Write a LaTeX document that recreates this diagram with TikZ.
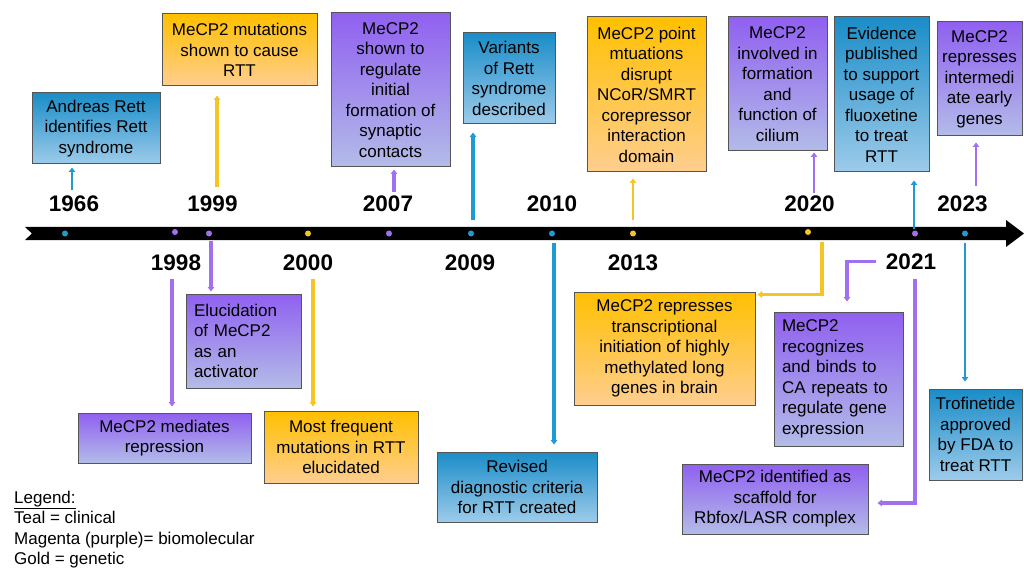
\documentclass[tikz,border=0pt]{standalone}
\usepackage{fontspec}
\setmainfont{Liberation Sans}
\usetikzlibrary{arrows.meta}
\definecolor{tealtop}{HTML}{1A8DC8}
\definecolor{tealbot}{HTML}{9DCBEA}
\definecolor{purptop}{HTML}{9060F0}
\definecolor{purpbot}{HTML}{B3BCE8}
\definecolor{goldtop}{HTML}{FFC000}
\definecolor{goldbot}{HTML}{FFCE8F}
\definecolor{boxline}{HTML}{555555}
\definecolor{tealline}{HTML}{1E9BD0}
\definecolor{purpline}{HTML}{A070F0}
\definecolor{goldline}{HTML}{F5C526}
\tikzset{
    box/.style={draw=boxline,line width=1pt,inner sep=3pt,align=center,
        font=\fontsize{17}{20.5}\selectfont},
    clinical/.style={box,top color=tealtop,bottom color=tealbot},
    biomol/.style={box,top color=purptop,bottom color=purpbot},
    genetic/.style={box,top color=goldtop,bottom color=goldbot},
    leftbox/.style={align=left,inner xsep=8pt},
    year/.style={font=\fontsize{22.5}{27}\selectfont\bfseries,anchor=base,inner sep=0pt},
    dot/.style={circle,inner sep=0pt,minimum size=6pt},
    link/.style={line width=3.2pt,-{Triangle[length=4.5pt,width=6.5pt]}},
    thinlink/.style={link,line width=2.4pt},
}
\begin{document}
\begin{tikzpicture}[x=1pt,y=-1pt]
    \useasboundingbox (0,0) rectangle (1024,569);
    \fill (25,227) -- (1006,227) -- (1006,220) -- (1024,233.5) -- (1006,247)
        -- (1006,240) -- (25,240) -- (32,233.5) -- cycle;

    \node[dot,fill=tealline] (d1966) at (65,233.5) {};
    \node[dot,fill=purpline] (d1998) at (175,232) {};
    \node[dot,fill=purpline] (d1999) at (209,233.5) {};
    \node[dot,fill=goldline] (d2000) at (308,233.5) {};
    \node[dot,fill=purpline] (d2007) at (389,233.5) {};
    \node[dot,fill=tealline] (d2009) at (471,233.5) {};
    \node[dot,fill=tealline] (d2010) at (552,233.5) {};
    \node[dot,fill=goldline] (d2013) at (633,233.5) {};
    \node[dot,fill=goldline] (d2020) at (808,232) {};
    \node[dot,fill=purpline] (d2021) at (915,233.5) {};
    \node[dot,fill=tealline] (d2023) at (965,233.5) {};

    \node[year] (y1966) at (74,212) {1966};
    \node[year] (y1999) at (212.5,212) {1999};
    \node[year] (y2007) at (388,212) {2007};
    \node[year] (y2010) at (552,212) {2010};
    \node[year] (y2020) at (809.5,212) {2020};
    \node[year] (y2023) at (962.5,212) {2023};
    \node[year] (y1998) at (176,270) {1998};
    \node[year] (y2000) at (308,270) {2000};
    \node[year] (y2009) at (470,270) {2009};
    \node[year] (y2013) at (633,270) {2013};
    \node[year] (y2021) at (911,269) {2021};

    \node[clinical,minimum width=128pt,minimum height=71pt] (bRett) at (96,128.5)
        {Andreas Rett\\identifies Rett\\syndrome};
    \node[genetic,minimum width=155pt,minimum height=72pt] (bCause) at (239.5,50)
        {MeCP2 mutations\\shown to cause\\RTT};
    \node[biomol,minimum width=119pt,minimum height=154pt] (bSynapse) at (390.5,90)
        {MeCP2\\shown to\\regulate\\initial\\formation of\\synaptic\\contacts};
    \node[clinical,minimum width=92pt,minimum height=91pt] (bVariants) at (509,78.5)
        {Variants\\of Rett\\syndrome\\described};
    \node[genetic,minimum width=119pt,minimum height=155pt] (bNCoR) at (646.5,94.5)
        {MeCP2 point\\mtuations\\disrupt\\NCoR/SMRT\\corepressor\\interaction\\domain};
    \node[biomol,minimum width=99pt,minimum height=134pt] (bCilium) at (777.5,84)
        {MeCP2\\involved in\\formation\\and\\function of\\cilium};
    \node[clinical,minimum width=95pt,minimum height=155pt] (bFluox) at (881.5,94.5)
        {Evidence\\published\\to support\\usage of\\fluoxetine\\to treat\\RTT};
    \node[biomol,minimum width=85pt,minimum height=114pt] (bEarly) at (979.5,79)
        {MeCP2\\represses\\intermedi\\ate early\\genes};

    \node[biomol,leftbox,text width=99pt,minimum height=94pt] (bActivator) at (243.5,341)
        {Elucidation\\of MeCP2\\as an\\activator};
    \node[biomol,minimum width=173pt,minimum height=50pt] (bRepress) at (164.5,438)
        {MeCP2 mediates\\repression};
    \node[genetic,minimum width=154pt,minimum height=72pt] (bFrequent) at (341,447)
        {Most frequent\\mutations in RTT\\elucidated};
    \node[clinical,minimum width=160pt,minimum height=70pt] (bRevised) at (517,487)
        {Revised\\diagnostic criteria\\for RTT created};
    \node[genetic,minimum width=181pt,minimum height=113pt] (bLong) at (664.5,348.5)
        {MeCP2 represses\\transcriptional\\initiation of highly\\methylated long\\genes in brain};
    \node[biomol,leftbox,text width=113pt,minimum height=134pt] (bRepeats) at (838.5,379)
        {MeCP2\\recognizes\\and binds to\\CA repeats to\\regulate gene\\expression};
    \node[biomol,minimum width=186pt,minimum height=70pt] (bScaffold) at (775,499)
        {MeCP2 identified as\\scaffold for\\Rbfox/LASR complex};
    \node[clinical,minimum width=93pt,minimum height=91pt] (bTrofin) at (975.5,434.5)
        {Trofinetide\\approved\\by FDA to\\treat RTT};

    \draw[thinlink,tealline,shorten <=6pt,shorten >=3pt] ([xshift=-2pt]y1966.north) -- ([xshift=-2pt]y1966.north |- bRett.south);
    \draw[link,goldline,shorten <=9pt,shorten >=9pt] ([xshift=4.5pt]y1999.north) -- ([xshift=4.5pt]y1999.north |- bCause.south);
    \draw[link,purpline,shorten <=4pt,shorten >=2pt] ([xshift=6pt]y2007.north) -- ([xshift=6pt]y2007.north |- bSynapse.south);
    \draw[link,tealline,shorten <=13pt,shorten >=8pt] ([xshift=2pt]d2009.center) -- ([xshift=2pt]d2009.center |- bVariants.south);
    \draw[thinlink,goldline,shorten <=13pt,shorten >=6pt] (d2013.center) -- (d2013.center |- bNCoR.south);
    \draw[thinlink,purpline,shorten <=3pt,shorten >=1pt] ([xshift=4.5pt]y2020.north) -- ([xshift=4.5pt]y2020.north |- bCilium.south);
    \draw[thinlink,tealline,shorten <=4pt,shorten >=8pt] ([xshift=-1pt]d2021.center) -- ([xshift=-1pt]d2021.center |- bFluox.south);
    \draw[thinlink,purpline,shorten <=10pt,shorten >=6pt] ([xshift=13.5pt]y2023.north) -- ([xshift=13.5pt]y2023.north |- bEarly.south);

    \draw[link,purpline,shorten <=9pt,shorten >=6pt] ([xshift=-4pt]y1998.south) -- ([xshift=-4pt]y1998.south |- bRepress.north);
    \draw[link,purpline,shorten <=7pt,shorten >=2pt] ([xshift=2pt]d1999.center) -- ([xshift=2pt]d1999.center |- bActivator.north);
    \draw[link,goldline,shorten <=9pt,shorten >=4pt] ([xshift=5pt]y2000.south) -- ([xshift=5pt]y2000.south |- bFrequent.north);
    \draw[link,tealline,shorten <=9pt,shorten >=7pt] ([xshift=2pt]d2010.center) -- ([xshift=2pt]d2010.center |- bRevised.north);
    \draw[link,goldline,shorten <=10pt,shorten >=2pt] ([xshift=14pt]d2020.center) |- ([yshift=-3pt]bLong.north east);
    \draw[link,purpline,shorten <=10pt,shorten >=10pt] (y2021.west) -| ([xshift=8.5pt]bRepeats.north);
    \draw[link,purpline,shorten <=10pt,shorten >=9pt] ([xshift=4pt]y2021.south) |- ([yshift=-4pt]bScaffold.east);
    \draw[thinlink,tealline,shorten <=9pt,shorten >=7pt] (d2023.center) -- (d2023.center |- bTrofin.north);

    \node[anchor=north west,inner sep=0pt,align=left,font=\fontsize{17}{20.3}\selectfont] (legend) at (14,491)
        {\underline{Legend:}\\Teal = clinical\\Magenta (purple)= biomolecular\\Gold = genetic};
\end{tikzpicture}
\end{document}
